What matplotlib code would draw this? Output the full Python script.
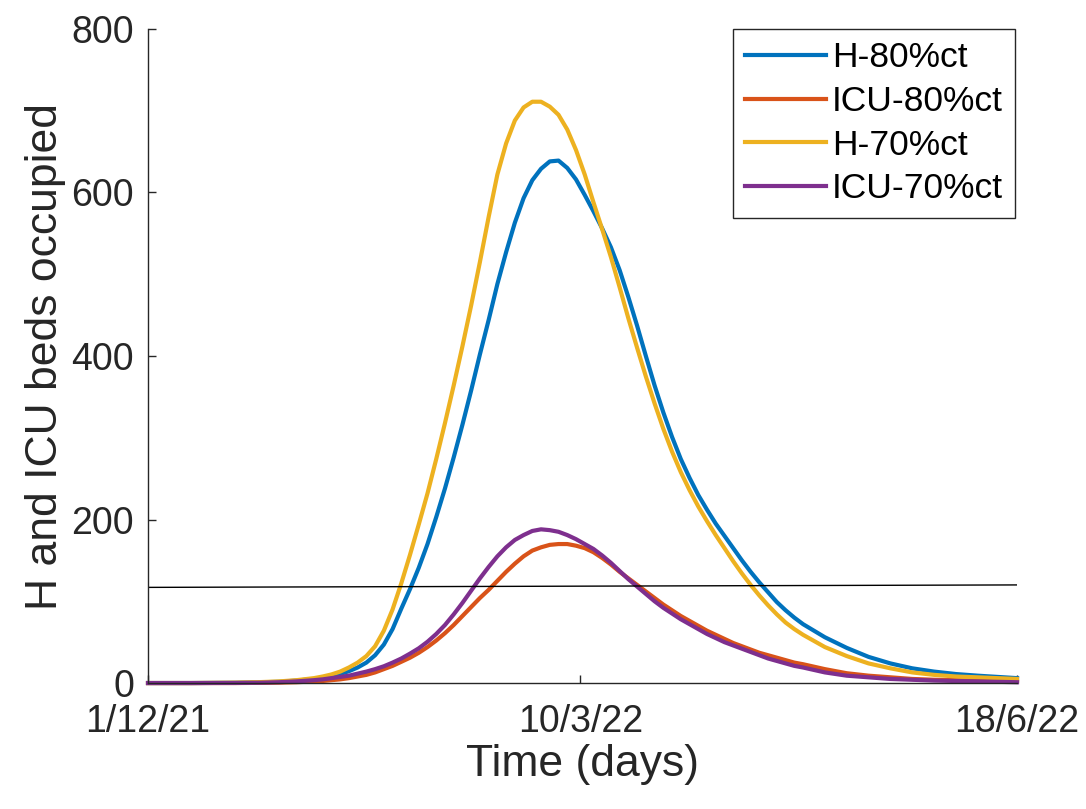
import matplotlib
matplotlib.use("Agg")
import matplotlib.pyplot as plt

plt.rcParams['font.family'] = ['Liberation Sans', 'DejaVu Sans']

# days since 1/12/21 (0 = 1/12/21, 99 = 10/3/22, 199 = 18/6/22)
days = [0, 10, 20, 25, 30, 34, 38] + list(range(40, 151, 2)) + \
       [155, 160, 165, 170, 175, 180, 185, 190, 199]

h_80 = [0, 0, 0.3, 0.8, 1.5, 3, 5,
        6.5, 8.5, 11, 14.5, 19, 25, 34, 47, 66, 91,
        115, 141, 170, 203, 238, 276, 316, 358, 402, 444,
        488, 527, 563, 593, 615, 629, 638, 639, 630, 616,
        597, 577, 556, 533, 505, 472, 437, 400, 364, 331,
        301, 274, 251, 230, 212, 195, 180, 165, 150, 136,
        123, 111, 99, 89, 80, 72,
        56, 43, 32, 24, 18, 14, 11, 9, 6]
icu_80 = [0, 0, 0, 0.2, 0.5, 1, 2,
          2.5, 3.5, 4.5, 6, 8, 10, 13, 17, 21, 26,
          31, 37, 44, 52, 61, 71, 82, 93, 104, 114,
          125, 136, 146, 155, 162, 166, 169, 170, 170, 168,
          165, 160, 153, 145, 136, 128, 120, 112, 104, 96,
          89, 82, 76, 70, 64, 59, 54, 49, 45, 41,
          37, 34, 31, 28, 25, 23,
          17, 12, 9, 7, 5, 4, 3.5, 3, 2]
h_70 = [0, 0, 0.5, 1, 2, 3.5, 6,
        8, 10.5, 14, 19, 25, 33, 45, 64, 90, 122,
        157, 194, 232, 274, 318, 364, 412, 462, 515, 570,
        622, 660, 688, 704, 711, 711, 705, 695, 677, 652,
        622, 588, 555, 521, 484, 446, 410, 375, 342, 311,
        283, 258, 236, 216, 198, 181, 165, 149, 134, 120,
        107, 95, 84, 74, 66, 59,
        44, 33, 24, 18, 13, 10, 8, 7, 5]
icu_70 = [0, 0, 0.1, 0.3, 1, 2, 3.5,
          4.5, 6, 7.5, 9, 11.5, 14, 17, 20.5, 25, 30,
          36, 42.5, 50.5, 60, 71, 84, 98, 113, 128, 142,
          155, 166, 175, 181, 186, 188, 187, 185, 181, 176,
          170, 164, 156, 147, 137, 127, 118, 109, 100, 92,
          85, 78, 72, 66, 60, 55, 50, 46, 42, 38,
          34, 30, 27, 24, 21, 19,
          13, 9, 7, 5, 4, 3, 2.5, 2, 1]

threshold_days = [0, 199]
threshold = [117, 120]

labels = ['H-80%ct', 'ICU-80%ct', 'H-70%ct', 'ICU-70%ct']
colors = ['#0072BD', '#D95319', '#EDB120', '#7E2F8E']
xtick_pos = [0, 99, 199]
xtick_labels = ['1/12/21', '10/3/22', '18/6/22']

fig = plt.figure(figsize=(10.86, 8.09), dpi=100)
ax = fig.add_axes([0.1363, 0.1557, 0.8002, 0.8085])

for series, label, color in zip([h_80, icu_80, h_70, icu_70], labels, colors):
    ax.plot(days, series, color=color, linewidth=3, label=label, clip_on=False,
            solid_joinstyle='round')

ax.plot(threshold_days, threshold, color='black', linewidth=1)

ax.set_xlim(0, 199)
ax.set_ylim(0, 800)
ax.set_xticks(xtick_pos)
ax.set_xticklabels(xtick_labels)
ax.set_yticks([0, 200, 400, 600, 800])

ax.spines['top'].set_visible(False)
ax.spines['right'].set_visible(False)
for s in ['left', 'bottom']:
    ax.spines[s].set_color('#262626')
    ax.spines[s].set_linewidth(1)
ax.tick_params(direction='in', length=6, width=1, colors='#262626',
               labelsize=27, labelcolor='#262626')
ax.tick_params(axis='x', pad=15)
ax.tick_params(axis='y', pad=10)

ax.set_xlabel('Time (days)', fontsize=32, color='#262626', labelpad=3)
ax.set_ylabel('H and ICU beds occupied', fontsize=32, color='#262626', labelpad=4)

leg = ax.legend(loc='upper right', bbox_to_anchor=(0.998, 1.0), borderaxespad=0,
                fontsize=25.5, handlelength=2.3, handletextpad=0.15, labelspacing=0.3,
                borderpad=0.35, fancybox=False, framealpha=1, edgecolor='#262626')
leg.get_frame().set_linewidth(1)

fig.savefig('out.png', dpi=100)
